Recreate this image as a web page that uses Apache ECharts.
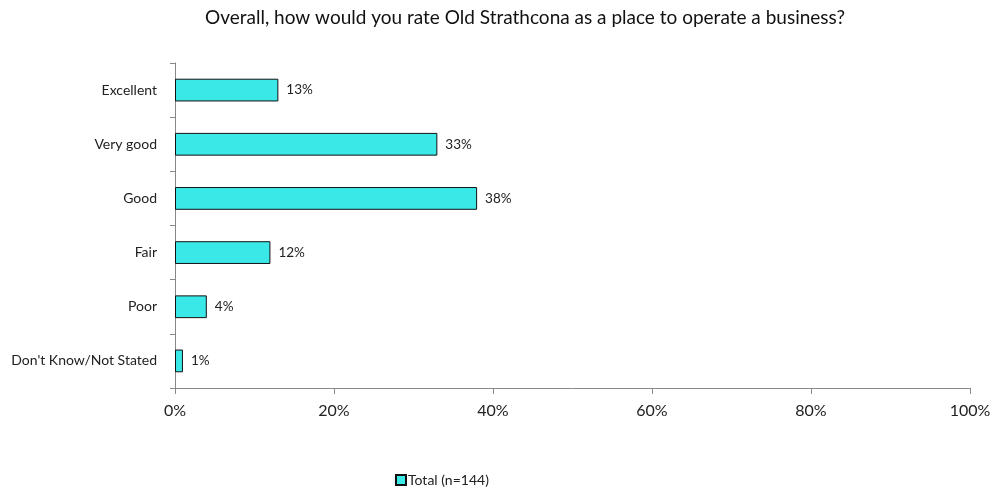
<!DOCTYPE html>
<html>
<head>
<meta charset="utf-8">
<script src="https://cdn.jsdelivr.net/npm/echarts@6/dist/echarts.min.js"></script>
<style>
  html, body { margin: 0; padding: 0; background: #fff; }
  #chart { width: 996px; height: 493px; }
</style>
</head>
<body>
<div id="chart"></div>
<script>
// Survey responses, listed bottom-to-top as drawn on the category axis
const categories = ['Don\'t Know/Not Stated', 'Poor', 'Fair', 'Good', 'Very good', 'Excellent'];
const totalValues = [1, 4, 12, 38, 33, 13];
const xTicks = [0, 20, 40, 60, 80, 100];
const seriesName = 'Total (n=144)';
const titleText = 'Overall, how would you rate Old Strathcona as a place to operate a business?';

const FONT = 'Lato, "Open Sans", sans-serif';

const chart = echarts.init(document.getElementById('chart'), null, { renderer: 'canvas' });

chart.setOption({
  animation: false,
  backgroundColor: '#ffffff',
  title: {
    text: titleText,
    left: 200,
    top: 3,
    textStyle: { fontFamily: FONT, fontSize: 19, fontWeight: 'normal', color: '#111' }
  },
  legend: {
    bottom: 1,
    left: 390,
    itemWidth: 10,
    itemHeight: 10,
    itemGap: 4,
    icon: 'rect',
    textStyle: { fontFamily: FONT, fontSize: 14, color: '#222', padding: [0, 0, 0, -3] },
    data: [seriesName]
  },
  grid: { left: 175, right: 26, top: 63, bottom: 105, containLabel: false },
  xAxis: {
    type: 'value',
    min: xTicks[0],
    max: xTicks[xTicks.length - 1],
    interval: 20,
    axisLine: { show: true, lineStyle: { color: '#888', width: 1 } },
    axisTick: { show: true, length: 6, lineStyle: { color: '#888' } },
    splitLine: { show: false },
    axisLabel: {
      fontFamily: FONT, fontSize: 16, color: '#222', margin: 15,
      formatter: v => v + '%'
    }
  },
  yAxis: {
    type: 'category',
    data: categories,
    axisLine: { show: true, lineStyle: { color: '#888', width: 1 } },
    axisTick: { show: true, length: 5, alignWithLabel: false, lineStyle: { color: '#888' } },
    axisLabel: { fontFamily: FONT, fontSize: 14, color: '#222', margin: 18 }
  },
  series: [{
    name: seriesName,
    type: 'bar',
    data: totalValues,
    barCategoryGap: '58%',
    itemStyle: { color: '#3BE8E8', borderColor: '#111', borderWidth: 1 },
    label: {
      show: true,
      position: 'right',
      distance: 8,
      fontFamily: FONT,
      fontSize: 13.5,
      color: '#222',
      formatter: p => p.value + '%'
    }
  }]
});
</script>
</body>
</html>
